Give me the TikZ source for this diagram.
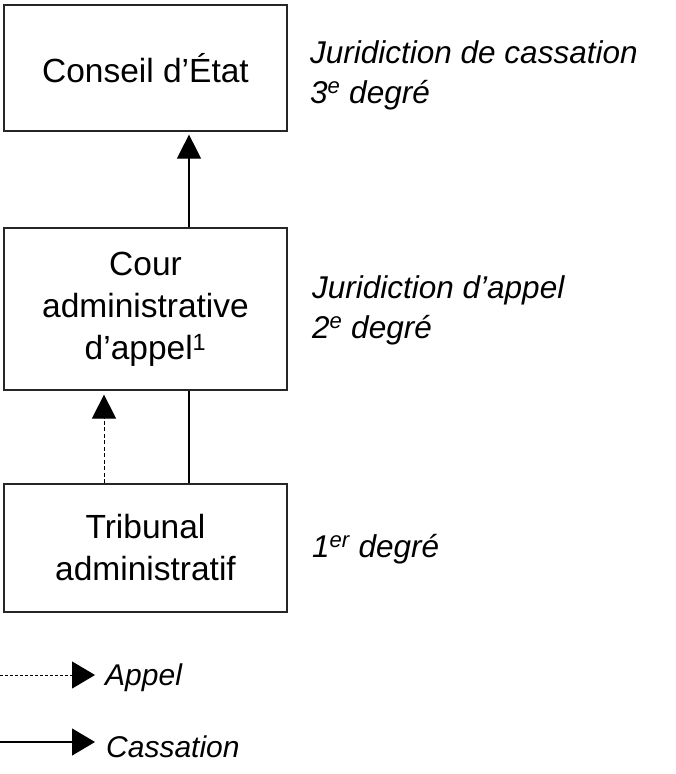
\documentclass[tikz,border=0pt]{standalone}
\usepackage{fontspec}
\setmainfont{Liberation Sans}
\usetikzlibrary{arrows.meta}
\begin{document}
\begin{tikzpicture}[x=1pt,y=-1pt,
  court/.style={draw=black!85,line width=1.2pt,minimum width=283pt,inner sep=0pt,
    align=center,font=\fontsize{33.5}{42}\selectfont},
  lbl/.style={anchor=base west,inner sep=0pt,font=\fontsize{31.5}{40}\selectfont\itshape},
  leg/.style={anchor=base west,inner sep=0pt,font=\fontsize{30}{38}\selectfont\itshape},
  cass/.style={line width=1.2pt,-{Triangle[length=24pt,width=24pt]}},
  appel/.style={line width=1pt,dash pattern=on 4pt off 2.5pt,-{Triangle[length=24pt,width=24pt]}},
  plain/.style={line width=1.2pt}]
\useasboundingbox (0,0) rectangle (676,774);
% boxes
\node[court,minimum height=126pt] (ce) at (145.5,68) {Conseil d’État};
\node[court,minimum height=162pt] (caa) at (145.5,309) {Cour\\administrative\\d’appel\textsuperscript{1}};
\node[court,minimum height=128pt] (ta) at (145.5,548) {Tribunal\\administratif};
% connectors
\draw[cass,shorten >=3pt] (caa.north -| 189,0) -- (ce.south -| 189,0);
\draw[plain] (ta.north -| 189,0) -- (caa.south -| 189,0);
\draw[appel,shorten >=4pt] (ta.north -| 104,0) -- (caa.south -| 104,0);
% right labels
\node[lbl] (l1a) at (310,63) {Juridiction de cassation};
\node[lbl] (l1b) at (310,103) {3\textsuperscript{e} degré};
\node[lbl] (l2a) at (312,298) {Juridiction d’appel};
\node[lbl] (l2b) at (312,338) {2\textsuperscript{e} degré};
\node[lbl] (l3) at (312,557) {1\textsuperscript{er} degré};
% legend
\coordinate (a0) at (0,675);
\coordinate (a1) at (95,675);
\coordinate (c0) at (0,742);
\coordinate (c1) at (95,742);
\draw[line width=1pt,dash pattern=on 3pt off 2pt,-{Triangle[length=23pt,width=27pt]}] (a0) -- (a1);
\draw[line width=1.2pt,-{Triangle[length=23pt,width=27pt]}] (c0) -- (c1);
\node[leg] (appel) at (105,685) {Appel};
\node[leg] (cassation) at (106,757) {Cassation};
\end{tikzpicture}
\end{document}
